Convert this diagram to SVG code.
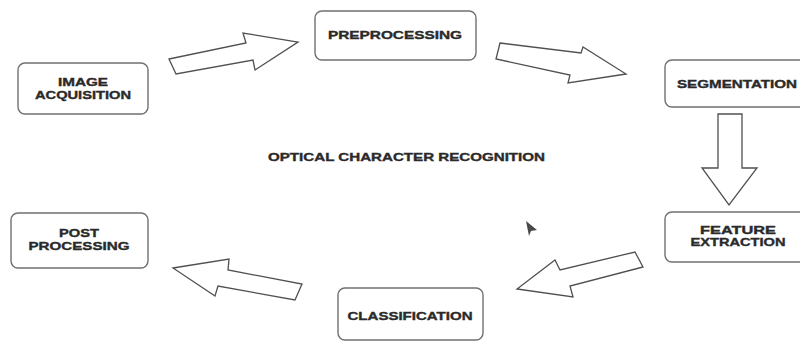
<svg xmlns="http://www.w3.org/2000/svg" width="800" height="342" viewBox="0 0 800 342">
<style>
.box{fill:#fff;stroke:#707070;stroke-width:1.4}
.lbl{font-family:"Liberation Sans",Arial,sans-serif;font-weight:bold;font-size:11px;fill:#2a2a2a;stroke:#2a2a2a;stroke-width:0.35}
.arr{fill:#fff;stroke:#505050;stroke-width:1.3;stroke-linejoin:miter}
</style>
<rect width="800" height="342" fill="#fff"/>
<g id="image-acquisition">
<rect class="box" x="18" y="63" width="130" height="51" rx="7"/>
<text class="lbl" x="83" y="86" text-anchor="middle" textLength="50" lengthAdjust="spacingAndGlyphs">IMAGE</text>
<text class="lbl" x="83" y="99" text-anchor="middle" textLength="96" lengthAdjust="spacingAndGlyphs">ACQUISITION</text>
</g>
<g id="preprocessing">
<rect class="box" x="315" y="11" width="161" height="49" rx="7"/>
<text class="lbl" x="395" y="39" text-anchor="middle" textLength="134" lengthAdjust="spacingAndGlyphs">PREPROCESSING</text>
</g>
<g id="segmentation">
<rect class="box" x="665" y="60" width="145" height="47" rx="7"/>
<text class="lbl" x="737" y="88" text-anchor="middle" textLength="120" lengthAdjust="spacingAndGlyphs">SEGMENTATION</text>
</g>
<g id="feature-extraction">
<rect class="box" x="665" y="212" width="145" height="50" rx="7"/>
<text class="lbl" x="738" y="234" text-anchor="middle" textLength="76" lengthAdjust="spacingAndGlyphs">FEATURE</text>
<text class="lbl" x="738" y="246" text-anchor="middle" textLength="95" lengthAdjust="spacingAndGlyphs">EXTRACTION</text>
</g>
<g id="classification">
<rect class="box" x="338" y="288" width="145" height="52" rx="7"/>
<text class="lbl" x="410" y="320" text-anchor="middle" textLength="125" lengthAdjust="spacingAndGlyphs">CLASSIFICATION</text>
</g>
<g id="post-processing">
<rect class="box" x="11" y="213" width="137" height="55" rx="7"/>
<text class="lbl" x="79" y="237" text-anchor="middle" textLength="40" lengthAdjust="spacingAndGlyphs">POST</text>
<text class="lbl" x="79" y="250" text-anchor="middle" textLength="101" lengthAdjust="spacingAndGlyphs">PROCESSING</text>
</g>
<g id="title">
<text class="lbl" x="406.5" y="161" text-anchor="middle" textLength="277" lengthAdjust="spacingAndGlyphs">OPTICAL CHARACTER RECOGNITION</text>
</g>
<g id="connectors">
<polygon class="arr" points="169,59 246,43 243,33 298,42 255,70 253,60 176,74"/>
<polygon class="arr" points="500,43 581,53 583,47 626,74 568,83 570,75 496,59"/>
<polygon class="arr" points="718,114 742,114 742,168 757,168 729,205 702,168 718,168"/>
<polygon class="arr" points="635,252 643,267 570,286 573,297 517,289 555,260 560,270"/>
<polygon class="arr" points="302,284 295,300 218,286 215,296 173,268 229,259 228,270"/>
</g>
<polygon points="526,221 537,230 531,231 529,236" fill="#4a4a4a"/>
</svg>
